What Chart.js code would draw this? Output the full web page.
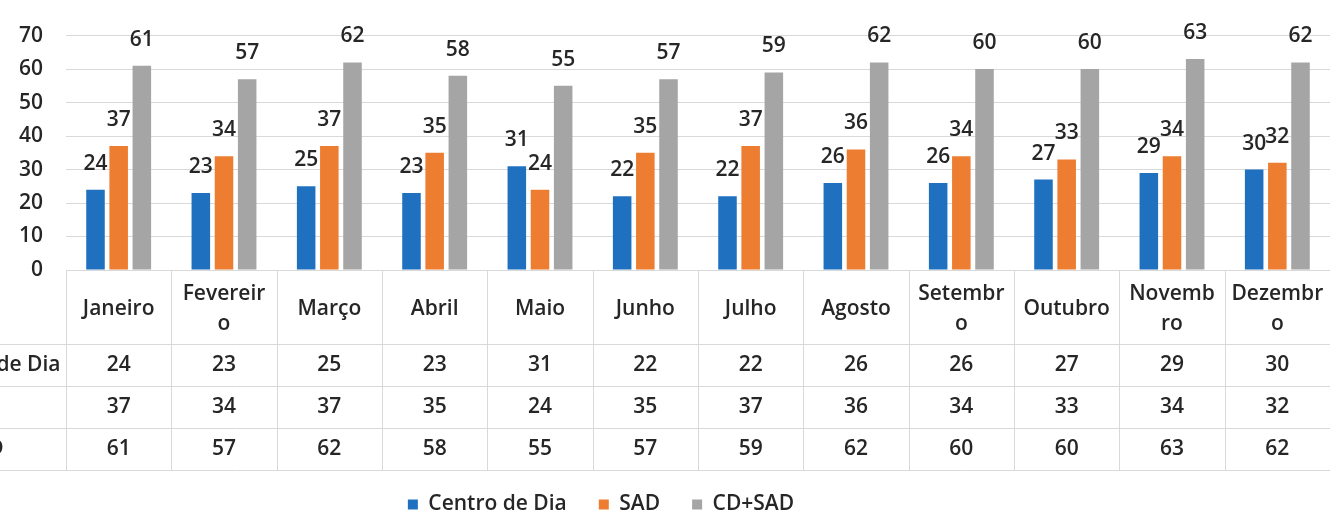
<!DOCTYPE html>
<html>
<head>
<meta charset="utf-8">
<script src="https://cdn.jsdelivr.net/npm/chart.js@4"></script>
<style>
  html, body { margin:0; padding:0; background:#fff; overflow:hidden; }
  #wrap { position:absolute; left:-128px; top:0; width:1458px; height:512px; }
</style>
</head>
<body>
<div id="wrap"><canvas id="c" width="1458" height="512"></canvas></div>
<script>
// months as they appear (wrapped) in the data table header
const months = [
  ['Janeiro'], ['Fevereir','o'], ['Março'], ['Abril'], ['Maio'], ['Junho'],
  ['Julho'], ['Agosto'], ['Setembr','o'], ['Outubro'], ['Novemb','ro'], ['Dezembr','o']
];
const centroDia = [24, 23, 25, 23, 31, 22, 22, 26, 26, 27, 29, 30];
const sad       = [37, 34, 37, 35, 24, 35, 37, 36, 34, 33, 34, 32];
const cdSad     = [61, 57, 62, 58, 55, 57, 59, 62, 60, 60, 63, 62];
const seriesNames = ['Centro de Dia', 'SAD', 'CD+SAD'];
const yTicks = [0, 10, 20, 30, 40, 50, 60, 70];

const FONT = '"Open Sans", sans-serif';
const TXT = '#262626';
const GRID = '#d9d9d9';

// table geometry (relative to chart area bottom)
const HEAD_H = 74;
const ROW_H = 42;

const valueLabels = {
  id: 'valueLabels',
  afterDatasetsDraw(chart){
    const ctx = chart.ctx;
    ctx.save();
    ctx.font = '600 21px ' + FONT;
    ctx.fillStyle = TXT;
    ctx.textAlign = 'center';
    ctx.textBaseline = 'middle';
    chart.data.datasets.forEach((ds, i) => {
      chart.getDatasetMeta(i).data.forEach((el, j) => {
        ctx.fillText(String(ds.data[j]), el.x, el.y - 26);
      });
    });
    ctx.restore();
  }
};

const dataTable = {
  id: 'dataTable',
  afterDraw(chart){
    const ctx = chart.ctx;
    const xs = chart.scales.x;
    const a = chart.chartArea;
    const n = chart.data.labels.length;
    const step = (a.right - a.left) / n;
    const top = a.bottom;
    const headBot = top + HEAD_H;
    const rows = chart.data.datasets.length;
    const bot = headBot + rows * ROW_H;

    ctx.save();
    ctx.strokeStyle = GRID;
    ctx.lineWidth = 1;
    ctx.beginPath();
    // top line, only under the plot
    ctx.moveTo(a.left, top + 0.5); ctx.lineTo(a.right, top + 0.5);
    // header bottom + row lines go across the label column too
    for(let r = 0; r <= rows; r++){
      const y = Math.round(headBot + r * ROW_H) + 0.5;
      ctx.moveTo(0, y); ctx.lineTo(a.right, y);
    }
    for(let i = 0; i <= n; i++){
      const x = Math.round(a.left + i * step) + 0.5;
      ctx.moveTo(x, top); ctx.lineTo(x, bot);
    }
    ctx.stroke();

    ctx.fillStyle = TXT;
    ctx.textAlign = 'center';
    ctx.textBaseline = 'middle';
    ctx.font = '600 21px ' + FONT;
    chart.data.labels.forEach((lines, i) => {
      const x = xs.getPixelForValue(i);
      const mid = top + HEAD_H / 2 + 2;
      const lh = 30;
      lines.forEach((t, k) => {
        ctx.fillText(t, x, mid + (k - (lines.length - 1) / 2) * lh);
      });
    });

    chart.data.datasets.forEach((ds, r) => {
      const y = headBot + r * ROW_H + ROW_H / 2;
      ds.data.forEach((v, i) => {
        ctx.fillText(String(v), xs.getPixelForValue(i), y);
      });
    });

    // row labels (left column, partly outside the picture)
    ctx.textAlign = 'left';
    chart.data.datasets.forEach((ds, r) => {
      const y = headBot + r * ROW_H + ROW_H / 2;
      ctx.fillText(ds.label, 50, y);
    });
    ctx.restore();
  }
};

new Chart(document.getElementById('c'), {
  type: 'bar',
  data: {
    labels: months,
    datasets: [
      { label: seriesNames[0], data: centroDia, backgroundColor: '#2070C0' },
      { label: seriesNames[1], data: sad,       backgroundColor: '#ED7D31' },
      { label: seriesNames[2], data: cdSad,     backgroundColor: '#A5A5A5' }
    ]
  },
  options: {
    responsive: false,
    animation: false,
    events: [],
    categoryPercentage: 0.66,
    barPercentage: 0.8,
    layout: { padding: { top: 27, right: 0, bottom: -13, left: 0 } },
    scales: {
      x: {
        grid: { display: false },
        border: { display: false },
        ticks: { display: false },
        afterFit(s){ s.height = 192; }
      },
      y: {
        min: 0, max: 70,
        afterBuildTicks(s){ s.ticks = yTicks.map(v => ({ value: v })); },
        afterFit(s){ s.width = 194; },
        grid: { color: GRID, drawTicks: false },
        border: { display: false },
        ticks: { padding: 23, color: TXT, font: { family: FONT, size: 21, weight: '600' } }
      }
    },
    plugins: {
      tooltip: { enabled: false },
      legend: {
        position: 'bottom',
        labels: {
          boxWidth: 10, boxHeight: 10, padding: 32,
          color: TXT,
          font: { family: FONT, size: 21, weight: '600' }
        }
      }
    }
  },
  plugins: [valueLabels, dataTable]
});
</script>
</body>
</html>
